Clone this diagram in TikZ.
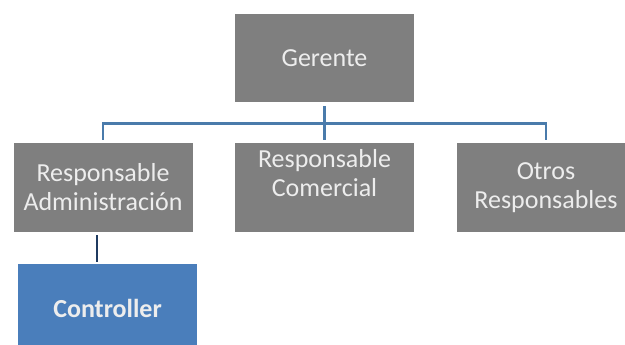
\documentclass[tikz,border=0pt]{standalone}
\usepackage{fontspec}
\setmainfont{Carlito}
\usetikzlibrary{calc,positioning}
\definecolor{boxgray}{HTML}{7F7F7F}
\definecolor{boxtext}{HTML}{EDEDED}
\definecolor{ctrlblue}{HTML}{4A7EBB}
\definecolor{linkblue}{HTML}{4A7BAB}
\definecolor{linknavy}{HTML}{1F3A60}

\tikzset{
  rolebox/.style={fill=boxgray, text=boxtext, align=center, minimum width=179pt, minimum height=89pt,
                  inner sep=0pt, font=\fontsize{26}{29}\selectfont},
  ctrlbox/.style={rolebox, fill=ctrlblue, font=\fontsize{26}{29}\selectfont\bfseries},
  linkline/.style={draw=linkblue, line width=2.8pt},
}

\begin{document}
\begin{tikzpicture}[x=1pt, y=1pt]
                     \useasboundingbox (0,0) rectangle (625,-345);
                     \clip (0,0) rectangle (625,-345);
                     \fill[white] (0,0) rectangle (625,-345);

                     \node at (324.5,-58) [rolebox, minimum height=88pt] (ger) {Gerente};
                     \node at (103,-187.5) [rolebox] (adm) {Responsable\\Administración};
                     \node at (324.5,-187.5) [rolebox] (com) {Responsable\\Comercial\\\mbox{}};
                     \node at (546,-187.5) [rolebox] (otr) {Otros\\Responsables};
                     \node at (107.5,-308.5) [ctrlbox] (ctrl) {Controller};

                     % lineas
                     \coordinate (junc) at ($(ger.south)+(0,-21)$);
                         \draw [linkline, shorten <=4pt, shorten >=3pt] (ger.south) -- (com.north);
                         \draw [linkline, shorten >=3pt] (junc) -| (adm.north);
                         \draw [linkline, shorten >=3pt] (junc) -| (otr.north);
                         \draw [draw=linknavy, line width=2.8pt, shorten <=3pt, shorten >=2pt]
                               ([xshift=-6pt]adm.south) -- ([xshift=-6pt]adm.south |- ctrl.north);
                 \end{tikzpicture}
\end{document}
